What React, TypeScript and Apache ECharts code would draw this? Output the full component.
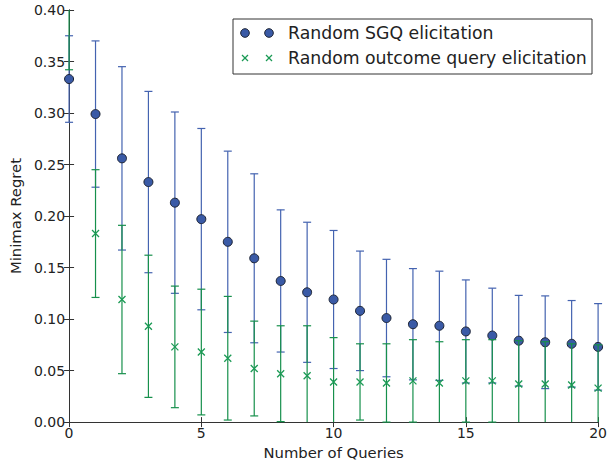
import React, { useEffect, useRef } from "react";
import * as echarts from "echarts";

const queries = [0, 1, 2, 3, 4, 5, 6, 7, 8, 9, 10, 11, 12, 13, 14, 15, 16, 17, 18, 19, 20];

const sgqMean = [0.333, 0.299, 0.256, 0.233, 0.213, 0.197, 0.175, 0.159, 0.137, 0.126, 0.119, 0.108, 0.101, 0.095, 0.0935, 0.088, 0.084, 0.079, 0.0775, 0.076, 0.073];
const sgqErr = [0.042, 0.071, 0.089, 0.088, 0.088, 0.088, 0.088, 0.082, 0.069, 0.068, 0.067, 0.058, 0.057, 0.054, 0.053, 0.05, 0.046, 0.044, 0.045, 0.042, 0.042];

const outcomeMean = [0.42, 0.183, 0.119, 0.093, 0.073, 0.068, 0.062, 0.052, 0.047, 0.045, 0.039, 0.039, 0.038, 0.04, 0.038, 0.04, 0.04, 0.037, 0.037, 0.036, 0.033];
const outcomeErr = [0.078, 0.062, 0.072, 0.069, 0.059, 0.061, 0.06, 0.046, 0.0465, 0.0485, 0.043, 0.037, 0.038, 0.04, 0.04, 0.04, 0.04, 0.042, 0.041, 0.04, 0.042];

const yTicks = ["0.00", "0.05", "0.10", "0.15", "0.20", "0.25", "0.30", "0.35", "0.40"];

const seriesNames = ["Random SGQ elicitation", "Random outcome query elicitation"];

const BLUE = "#3a5aa6";
const BLUE_BAR = "#4463b0";
const GREEN = "#1b9a55";
const GREEN_BAR = "#17904c";
const FONT = "DejaVu Sans";

function errorRenderer(color: string) {
  return (params: any, api: any) => {
    const x = api.value(0);
    const m = api.value(1);
    const e = api.value(2);
    const cs = params.coordSys;
    const top = cs.y;
    const bottom = cs.y + cs.height;
    const hi = api.coord([x, m + e]);
    const lo = api.coord([x, m - e]);
    const px = hi[0];
    const y1 = Math.max(hi[1], top);
    const y2 = Math.min(lo[1], bottom);
    const children: any[] = [];
    if (y2 > y1) {
      children.push({
        type: "line",
        shape: { x1: px, y1, x2: px, y2 },
        style: { stroke: color, lineWidth: 1.2 },
      });
    }
    const cap = 4;
    if (hi[1] >= top && hi[1] <= bottom) {
      children.push({
        type: "line",
        shape: { x1: px - cap, y1: hi[1], x2: px + cap, y2: hi[1] },
        style: { stroke: color, lineWidth: 1.2 },
      });
    }
    if (lo[1] >= top && lo[1] <= bottom) {
      children.push({
        type: "line",
        shape: { x1: px - cap, y1: lo[1], x2: px + cap, y2: lo[1] },
        style: { stroke: color, lineWidth: 1.2 },
      });
    }
    return { type: "group", children };
  };
}

export default function App() {
  const ref = useRef<HTMLDivElement>(null);

  useEffect(() => {
    document.body.style.margin = "0";
    document.body.style.overflow = "hidden";
    const chart = echarts.init(ref.current!, null, { renderer: "svg", width: 610, height: 465 });

    const sgqErrData = queries.map((q, i) => [q, sgqMean[i], sgqErr[i]]);
    const outErrData = queries.map((q, i) => [q, outcomeMean[i], outcomeErr[i]]);
    const sgqPts = queries.map((q, i) => [q, sgqMean[i]]);
    const outPts = queries.map((q, i) => [q, outcomeMean[i]]);

    const axisLine = { show: true, lineStyle: { color: "#333", width: 1 } };
    const tickStyle = { show: true, inside: true, length: 5, lineStyle: { color: "#333", width: 1 } };

    chart.setOption({
      animation: false,
      backgroundColor: "#ffffff",
      textStyle: { fontFamily: FONT },
      grid: { left: 65, right: 10, top: 10, bottom: 40, containLabel: false },
      xAxis: [
        {
          type: "value",
          min: 0,
          max: 20,
          interval: 5,
          position: "bottom",
          name: "Number of Queries",
          nameLocation: "middle",
          nameGap: 20,
          nameTextStyle: { fontFamily: FONT, fontSize: 14.8, color: "#222" },
          axisLine,
          axisTick: tickStyle,
          axisLabel: { fontFamily: FONT, fontSize: 14, color: "#222", margin: 4 },
          splitLine: { show: false },
        },
        {
          type: "value",
          min: 0,
          max: 20,
          interval: 5,
          position: "top",
          axisLine,
          axisTick: tickStyle,
          axisLabel: { show: false },
          splitLine: { show: false },
        },
      ],
      yAxis: [
        {
          type: "value",
          min: 0,
          max: 0.4,
          interval: 0.05,
          position: "left",
          name: "Minimax Regret",
          nameLocation: "middle",
          nameGap: 41,
          nameTextStyle: { fontFamily: FONT, fontSize: 14.8, color: "#222" },
          axisLine,
          axisTick: tickStyle,
          axisLabel: {
            fontFamily: FONT,
            fontSize: 14,
            color: "#222",
            margin: 4,
            formatter: (v: number) => yTicks[Math.round(v / 0.05)] ?? v.toFixed(2),
          },
          splitLine: { show: false },
        },
        {
          type: "value",
          min: 0,
          max: 0.4,
          interval: 0.05,
          position: "right",
          axisLine,
          axisTick: tickStyle,
          axisLabel: { show: false },
          splitLine: { show: false },
        },
      ],
      series: [
        {
          type: "custom",
          name: seriesNames[0] + " error",
          renderItem: errorRenderer(BLUE_BAR),
          data: sgqErrData,
          encode: { x: 0, y: 1 },
          z: 2,
          silent: true,
        },
        {
          type: "scatter",
          name: seriesNames[0],
          data: sgqPts,
          symbol: "circle",
          symbolSize: 9,
          itemStyle: { color: BLUE, borderColor: "#1c2333", borderWidth: 1, opacity: 1 },
          z: 3,
        },
        {
          type: "custom",
          name: seriesNames[1] + " error",
          renderItem: errorRenderer(GREEN_BAR),
          data: outErrData,
          encode: { x: 0, y: 1 },
          z: 4,
          silent: true,
        },
        {
          type: "scatter",
          name: seriesNames[1],
          data: outPts,
          symbol: "path://M0,0L10,10M10,0L0,10",
          symbolSize: 7,
          itemStyle: { color: "none", borderColor: GREEN, borderWidth: 1.3, opacity: 1 },
          z: 5,
        },
      ],
      graphic: [
        {
          type: "group",
          z: 100,
          children: [
            {
              type: "rect",
              shape: { x: 233, y: 19, width: 359, height: 55 },
              style: { fill: "#ffffff", stroke: "#333", lineWidth: 1 },
            },
            { type: "circle", shape: { cx: 245, cy: 33, r: 4.3 }, style: { fill: BLUE, stroke: "#1c2333", lineWidth: 1 } },
            { type: "circle", shape: { cx: 269, cy: 33, r: 4.3 }, style: { fill: BLUE, stroke: "#1c2333", lineWidth: 1 } },
            {
              type: "text",
              style: { x: 288, y: 33, text: seriesNames[0], fontFamily: FONT, fontSize: 17.3, fill: "#222", verticalAlign: "middle", align: "left" },
            },
            { type: "line", shape: { x1: 242, y1: 55, x2: 248, y2: 61 }, style: { stroke: GREEN, lineWidth: 1.2 } },
            { type: "line", shape: { x1: 248, y1: 55, x2: 242, y2: 61 }, style: { stroke: GREEN, lineWidth: 1.2 } },
            { type: "line", shape: { x1: 266, y1: 55, x2: 272, y2: 61 }, style: { stroke: GREEN, lineWidth: 1.2 } },
            { type: "line", shape: { x1: 272, y1: 55, x2: 266, y2: 61 }, style: { stroke: GREEN, lineWidth: 1.2 } },
            {
              type: "text",
              style: { x: 288, y: 58, text: seriesNames[1], fontFamily: FONT, fontSize: 17.3, fill: "#222", verticalAlign: "middle", align: "left" },
            },
          ],
        },
      ],
    });

    return () => chart.dispose();
  }, []);

  return (
    <div
      ref={ref}
      style={{ position: "absolute", left: 0, top: 0, width: 610, height: 465, background: "#fff", overflow: "hidden" }}
    />
  );
}
